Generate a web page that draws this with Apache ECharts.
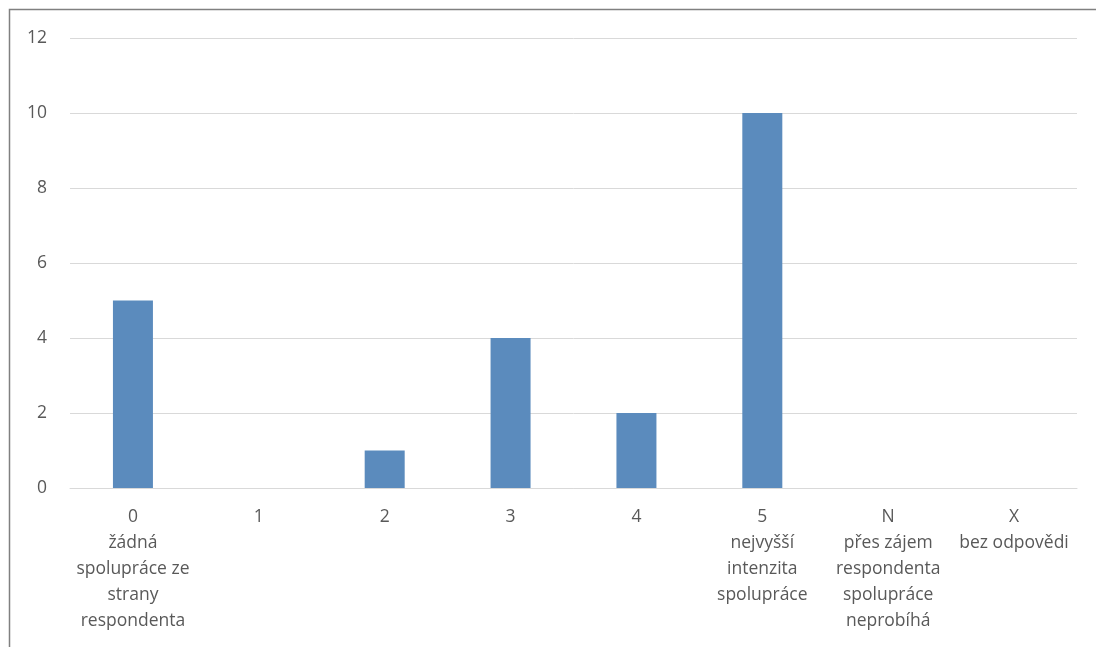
<!DOCTYPE html>
<html><head><meta charset="utf-8">
<script src="https://cdn.jsdelivr.net/npm/echarts@6/dist/echarts.min.js"></script>
<style>html,body{margin:0;padding:0;background:#fff}#c{width:1096px;height:647px}</style>
</head><body><div id="c"></div>
<script>
const categories = ['0\nžádná\nspolupráce ze\nstrany\nrespondenta','1','2','3','4','5\nnejvyšší\nintenzita\nspolupráce','N\npřes zájem\nrespondenta\nspolupráce\nneprobíhá','X\nbez odpovědi'];
const values = [5, 0, 1, 4, 2, 10, 0, 0];
const yTicks = { min: 0, max: 12, interval: 2 };

const chart = echarts.init(document.getElementById('c'), null, {renderer:'canvas'});
chart.setOption({
  animation: false,
  graphic: [{ type: 'rect', shape: { x: 9.5, y: 9.5, width: 1200, height: 800 }, style: { fill: 'none', stroke: '#808080', lineWidth: 1.5 }, z: 10 }],
  grid: { left: 70, right: 19, top: 38, bottom: 159, containLabel: false },
  xAxis: {
    type: 'category', data: categories,
    axisLine: { lineStyle: { color: '#d9d9d9', width: 1 } },
    axisTick: { show: false },
    axisLabel: { color: '#595959', fontSize: 17.5, fontFamily: 'Open Sans, Liberation Sans, sans-serif', lineHeight: 26, margin: 16, interval: 0 }
  },
  yAxis: {
    type: 'value', min: yTicks.min, max: yTicks.max, interval: yTicks.interval,
    axisLine: { show: false }, axisTick: { show: false },
    splitLine: { lineStyle: { color: '#d9d9d9', width: 1 } },
    axisLabel: { color: '#595959', fontSize: 17.5, fontFamily: 'Open Sans, Liberation Sans, sans-serif', margin: 23 }
  },
  series: [{ type: 'bar', data: values, barWidth: 40, itemStyle: { color: '#5b8bbd' } }]
});
</script></body></html>
